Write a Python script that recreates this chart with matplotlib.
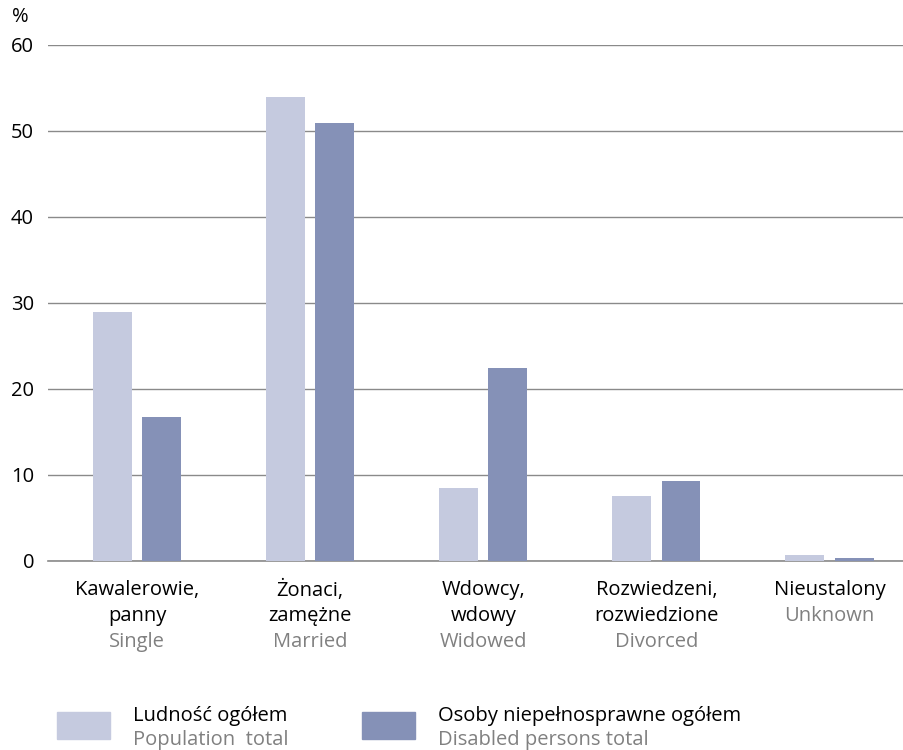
import numpy as np
import matplotlib.pyplot as plt
from matplotlib.patches import Rectangle

plt.rcParams['font.family'] = ['Open Sans', 'DejaVu Sans']

kategorie_pl = ['Kawalerowie,\npanny', 'Żonaci,\nzamężne', 'Wdowcy,\nwdowy',
                'Rozwiedzeni,\nrozwiedzione', 'Nieustalony']
kategorie_en = ['Single', 'Married', 'Widowed', 'Divorced', 'Unknown']
ludnosc = [29.0, 54.0, 8.5, 7.6, 0.7]
niepelnosprawni = [16.7, 50.9, 22.4, 9.3, 0.35]
yticks = [0, 10, 20, 30, 40, 50, 60]

c_jasny = '#c5cadf'
c_ciemny = '#8591b7'
c_szary = '#808080'
fs = 14.5
px = 72 / 100  # piksele -> punkty

fig = plt.figure(figsize=(9.04, 7.5), dpi=100)
ax = fig.add_axes([0.053, 0.252, 0.947, 0.688])

x = np.arange(len(kategorie_en))
w = 0.225
ax.bar(x - 0.142, ludnosc, w, color=c_jasny, zorder=3)
ax.bar(x + 0.142, niepelnosprawni, w, color=c_ciemny, zorder=3)

ax.set_xlim(-0.515, 4.43)
ax.set_ylim(0, 60)
ax.set_yticks(yticks)
ax.yaxis.grid(True, color='#8a8a8a', linewidth=1.0, zorder=0)
ax.tick_params(axis='y', length=0, labelsize=fs, pad=10)
ax.tick_params(axis='x', length=0)
ax.set_xticks([])
for s in ['top', 'right', 'left']:
    ax.spines[s].set_visible(False)
ax.spines['bottom'].set_color('#8a8a8a')
ax.spines['bottom'].set_linewidth(1.2)

fig.text(12 / 904, 1 - 17 / 750, '%', fontsize=fs, ha='left', va='center')

for i in range(len(x)):
    linie = kategorie_pl[i].split('\n')
    for k, lin in enumerate(linie):
        ax.annotate(lin, xy=(x[i], 0), xycoords=('data', 'axes fraction'),
                    xytext=(0, -(29 + 26 * k) * px), textcoords='offset points',
                    ha='center', va='center', fontsize=fs)
    ax.annotate(kategorie_en[i], xy=(x[i], 0), xycoords=('data', 'axes fraction'),
                xytext=(0, -(29 + 26 * len(linie)) * px), textcoords='offset points',
                ha='center', va='center', fontsize=fs, color=c_szary)

# legenda
fig.add_artist(Rectangle((57 / 904, 1 - 739 / 750), 53 / 904, 27 / 750,
                         color=c_jasny, transform=fig.transFigure))
fig.add_artist(Rectangle((362 / 904, 1 - 739 / 750), 53 / 904, 27 / 750,
                         color=c_ciemny, transform=fig.transFigure))
fig.text(133 / 904, 1 - 716 / 750, 'Ludność ogółem', fontsize=fs, va='center')
fig.text(133 / 904, 1 - 740 / 750, 'Population  total', fontsize=fs, va='center', color=c_szary)
fig.text(438 / 904, 1 - 716 / 750, 'Osoby niepełnosprawne ogółem', fontsize=fs, va='center')
fig.text(438 / 904, 1 - 740 / 750, 'Disabled persons total', fontsize=fs, va='center', color=c_szary)

fig.savefig('out.png', dpi=100)
